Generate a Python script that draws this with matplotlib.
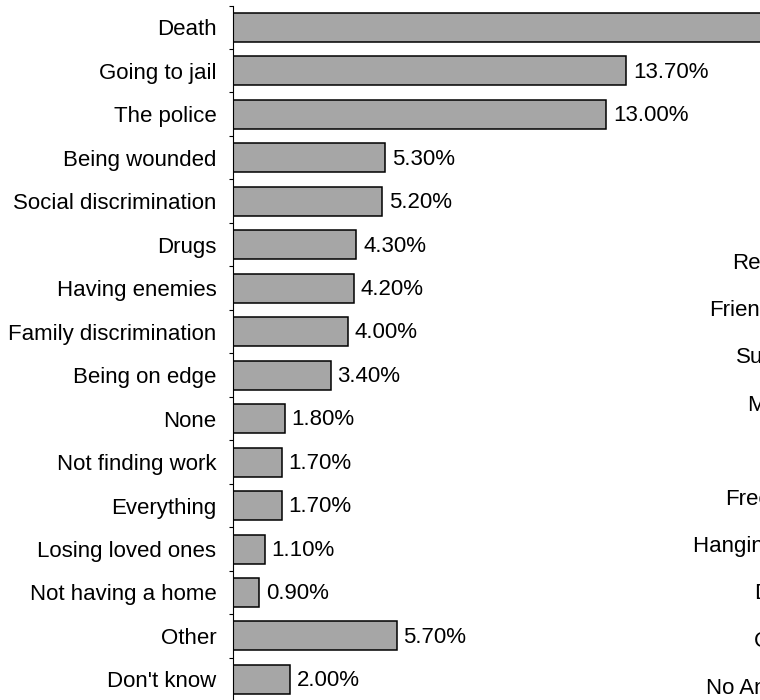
import matplotlib.pyplot as plt
import numpy as np

plt.rcParams["font.family"] = ["Liberation Sans", "DejaVu Sans"]
plt.rcParams["font.size"] = 16

# What scares you the most (% of answers)
fears = [
    "Death", "Going to jail", "The police", "Being wounded",
    "Social discrimination", "Drugs", "Having enemies",
    "Family discrimination", "Being on edge", "None",
    "Not finding work", "Everything", "Losing loved ones",
    "Not having a home", "Other", "Don't know",
]
fear_pct = [32.0, 13.7, 13.0, 5.3, 5.2, 4.3, 4.2, 4.0, 3.4, 1.8,
            1.7, 1.7, 1.1, 0.9, 5.7, 2.0]

# neighbouring chart: what they like about the group
likes = [
    "Respect", "Friendship", "Support", "Money", "Fun",
    "Freedom", "Hanging out", "Drugs", "Crime", "No Answer",
]

W, H = 760, 700
fig = plt.figure(figsize=(W / 100, H / 100), dpi=100)

# main bar chart, runs past the right edge of the canvas
ax = fig.add_axes([233 / W, -1.2 / H, 1000 / W, 695.7 / H])
y = np.arange(len(fears))
bars = ax.barh(y, fear_pct, height=0.667, color="#a6a6a6",
               edgecolor="black", linewidth=1.1)
ax.set_xlim(0, 1000 / 28.7)
ax.set_ylim(len(fears) - 0.5, -0.5)

for b, v in zip(bars, fear_pct):
    ax.annotate(f"{v:.2f}%", (b.get_width(), b.get_y() + b.get_height() / 2),
                xytext=(5, -1), textcoords="offset points",
                ha="left", va="center")

ax.set_yticks(y)
ax.set_yticklabels(fears)
ax.set_yticks(np.arange(-0.5, len(fears)), minor=True)
ax.tick_params(axis="y", which="major", length=0, pad=12)
ax.tick_params(axis="y", which="minor", length=3, width=0.8, direction="out")
ax.xaxis.set_visible(False)
for s in ["top", "right", "bottom"]:
    ax.spines[s].set_visible(False)
ax.spines["left"].set_linewidth(0.8)

# second chart sitting to the right, only its labels reach into view
ax2 = fig.add_axes([833 / W, (H - 709.3) / H, 300 / W, 471.8 / H])
ax2.set_ylim(len(likes) - 0.5, -0.5)
ax2.set_yticks(np.arange(len(likes)))
ax2.set_yticklabels(likes)
ax2.tick_params(axis="y", length=0, pad=14)
ax2.xaxis.set_visible(False)
for s in ax2.spines.values():
    s.set_visible(False)
ax2.patch.set_visible(False)

fig.savefig("out.png", dpi=100)
